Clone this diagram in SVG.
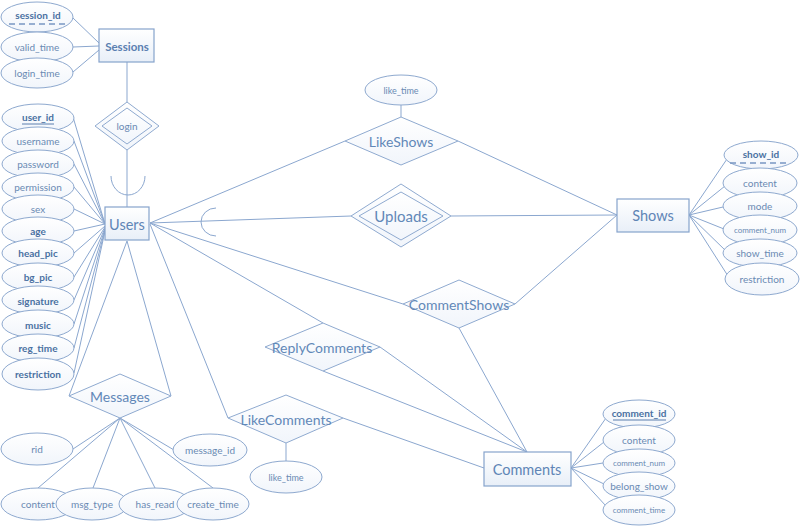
<svg xmlns="http://www.w3.org/2000/svg" width="800" height="527" viewBox="0 0 800 527">
<defs>
<linearGradient id="gEnt" x1="0" y1="0" x2="0" y2="1"><stop offset="0" stop-color="#ffffff"/><stop offset="1" stop-color="#e8eff8"/></linearGradient>
<linearGradient id="gAttr" x1="0" y1="0" x2="0" y2="1"><stop offset="0" stop-color="#ffffff"/><stop offset="1" stop-color="#f1f5fb"/></linearGradient>
<style>
.ln{stroke:#8ba7cf;stroke-width:1;fill:none}
.ent{fill:url(#gEnt);stroke:#86a3cc;stroke-width:1.2}
.rel{fill:url(#gAttr);stroke:#8faad0;stroke-width:1}
.att{fill:url(#gAttr);stroke:#8ea9cf;stroke-width:1}
text{font-family:Lato,"Liberation Sans",sans-serif;text-anchor:middle;dominant-baseline:central}
.et{font-size:14.5px;fill:#5f85b6}
.rt{font-size:14px;fill:#6288b8}
.at{font-size:10px;fill:#6a8ab3}
.ab{font-size:10px;fill:#4a71a2;font-weight:bold}
.sm{font-size:8px;fill:#6a8ab3}
.ul{stroke:#5a7eae;stroke-width:1}
.dl{stroke:#7896c2;stroke-width:1.4;stroke-dasharray:6,4}
</style>
</defs>
<rect width="800" height="527" fill="#ffffff"/>
<g id="connectors">
<line class="ln" x1="73" y1="18" x2="99" y2="43"/>
<line class="ln" x1="73" y1="47" x2="99" y2="46"/>
<line class="ln" x1="73" y1="72" x2="99" y2="50"/>
<line class="ln" x1="127" y1="62" x2="127" y2="102"/>
<line class="ln" x1="127" y1="150" x2="127" y2="207"/>
<path class="ln" d="M111,176 A17,19 0 0 0 145,176"/>
<line class="ln" x1="73" y1="117" x2="105" y2="224"/>
<line class="ln" x1="74" y1="141" x2="105" y2="224"/>
<line class="ln" x1="74" y1="164" x2="105" y2="224"/>
<line class="ln" x1="74" y1="187" x2="105" y2="224"/>
<line class="ln" x1="74" y1="209" x2="105" y2="224"/>
<line class="ln" x1="74" y1="231" x2="105" y2="224"/>
<line class="ln" x1="74" y1="253" x2="105" y2="226"/>
<line class="ln" x1="74" y1="277" x2="105" y2="227"/>
<line class="ln" x1="74" y1="300" x2="105" y2="228"/>
<line class="ln" x1="74" y1="324" x2="105" y2="229"/>
<line class="ln" x1="74" y1="348" x2="105" y2="230"/>
<line class="ln" x1="74" y1="373" x2="105" y2="231"/>
<line class="ln" x1="150" y1="223" x2="345" y2="141"/>
<line class="ln" x1="150" y1="223" x2="351" y2="216"/>
<path class="ln" d="M216,208 A15,14 0 0 0 216,236"/>
<line class="ln" x1="150" y1="223" x2="403" y2="304"/>
<line class="ln" x1="150" y1="223" x2="323" y2="323"/>
<line class="ln" x1="150" y1="224" x2="228" y2="418"/>
<line class="ln" x1="127" y1="241" x2="69" y2="396"/>
<line class="ln" x1="127" y1="241" x2="171" y2="396"/>
<line class="ln" x1="401" y1="105" x2="401" y2="117"/>
<line class="ln" x1="458" y1="141" x2="617" y2="215"/>
<line class="ln" x1="451" y1="216" x2="617" y2="215"/>
<line class="ln" x1="515" y1="304" x2="617" y2="215"/>
<line class="ln" x1="459" y1="328" x2="527" y2="452"/>
<line class="ln" x1="380" y1="347" x2="527" y2="452"/>
<line class="ln" x1="323" y1="371" x2="527" y2="452"/>
<line class="ln" x1="343" y1="418" x2="484" y2="468"/>
<line class="ln" x1="286" y1="443" x2="286" y2="461"/>
<line class="ln" x1="689" y1="215" x2="727" y2="159"/>
<line class="ln" x1="689" y1="215" x2="725" y2="186"/>
<line class="ln" x1="689" y1="215" x2="723" y2="207"/>
<line class="ln" x1="689" y1="215" x2="724" y2="229"/>
<line class="ln" x1="689" y1="215" x2="726" y2="251"/>
<line class="ln" x1="689" y1="215" x2="728" y2="276"/>
<line class="ln" x1="571" y1="468" x2="606" y2="418"/>
<line class="ln" x1="571" y1="468" x2="604" y2="442"/>
<line class="ln" x1="571" y1="468" x2="603" y2="463"/>
<line class="ln" x1="571" y1="468" x2="604" y2="484"/>
<line class="ln" x1="571" y1="468" x2="606" y2="506"/>
<line class="ln" x1="120" y1="418" x2="73" y2="449"/>
<line class="ln" x1="120" y1="418" x2="174" y2="450"/>
<line class="ln" x1="120" y1="418" x2="38" y2="488"/>
<line class="ln" x1="120" y1="418" x2="93" y2="488"/>
<line class="ln" x1="120" y1="418" x2="155" y2="488"/>
<line class="ln" x1="120" y1="418" x2="213" y2="488"/>
</g>
<g id="Sessions"><rect class="ent" x="99" y="29" width="55" height="33"/><text x="127" y="46" style="font-size:11.5px;font-weight:bold;fill:#5a80b1;font-family:Lato,'Liberation Sans',sans-serif">Sessions</text></g>
<g id="attr-session_id"><ellipse class="att" cx="37" cy="17" rx="36" ry="15"/><text class="ab" x="38" y="15">session_id</text><line class="dl" x1="9" y1="24" x2="67" y2="24"/></g>
<g id="attr-valid_time"><ellipse class="att" cx="37" cy="47" rx="36" ry="15"/><text class="at" x="37" y="47">valid_time</text></g>
<g id="attr-login_time"><ellipse class="att" cx="37" cy="73" rx="36" ry="15"/><text class="at" x="37" y="73">login_time</text></g>
<g id="login"><polygon class="rel" points="127,102 159,126 127,150 95,126"/><polygon class="rel" points="127,108 152,126 127,144 102,126"/><text class="at" x="127" y="126">login</text></g>
<g id="Users"><rect class="ent" x="105" y="207" width="44" height="33"/><text class="et" x="127" y="224">Users</text></g>
<g id="attr-user_id"><ellipse class="att" cx="38" cy="118" rx="36" ry="14"/><text class="ab" x="38" y="117">user_id</text><line class="ul" x1="22" y1="124" x2="54" y2="124"/></g>
<g id="attr-username"><ellipse class="att" cx="38" cy="141" rx="36" ry="14"/><text class="at" x="38" y="141">username</text></g>
<g id="attr-password"><ellipse class="att" cx="38" cy="164" rx="36" ry="14"/><text class="at" x="38" y="164">password</text></g>
<g id="attr-permission"><ellipse class="att" cx="38" cy="187" rx="36" ry="14"/><text class="at" x="38" y="187">permission</text></g>
<g id="attr-sex"><ellipse class="att" cx="38" cy="209" rx="36" ry="14"/><text class="at" x="38" y="209">sex</text></g>
<g id="attr-age"><ellipse class="att" cx="38" cy="231" rx="36" ry="14"/><text class="ab" x="38" y="231">age</text></g>
<g id="attr-head_pic"><ellipse class="att" cx="38" cy="253" rx="36" ry="14"/><text class="ab" x="38" y="253">head_pic</text></g>
<g id="attr-bg_pic"><ellipse class="att" cx="38" cy="277" rx="36" ry="14"/><text class="ab" x="38" y="277">bg_pic</text></g>
<g id="attr-signature"><ellipse class="att" cx="38" cy="300" rx="36" ry="14"/><text class="ab" x="38" y="301">signature</text></g>
<g id="attr-music"><ellipse class="att" cx="38" cy="324" rx="36" ry="14"/><text class="ab" x="38" y="325">music</text></g>
<g id="attr-reg_time"><ellipse class="att" cx="38" cy="348" rx="36" ry="14"/><text class="ab" x="38" y="348">reg_time</text></g>
<g id="attr-restriction"><ellipse class="att" cx="38" cy="374" rx="36" ry="16"/><text class="ab" x="38" y="374">restriction</text></g>
<g id="LikeShows"><polygon class="rel" points="401,117 458,141 401,165 345,141"/><text class="rt" x="401" y="141">LikeShows</text></g>
<g id="attr-like_time-shows"><ellipse class="att" cx="401" cy="90" rx="36" ry="15"/><text class="at" x="401" y="90" style="font-size:9px">like_time</text></g>
<g id="Uploads"><polygon class="rel" points="401,184 451,216 401,247 351,216"/><polygon class="rel" points="401,192 443,216 401,240 359,216"/><text class="rt" x="401" y="216" style="font-size:15px">Uploads</text></g>
<g id="CommentShows"><polygon class="rel" points="459,280 515,304 459,328 403,304"/><text class="rt" x="459" y="304">CommentShows</text></g>
<g id="ReplyComments"><polygon class="rel" points="323,323 380,347 323,371 265,347"/><text class="rt" x="322" y="347">ReplyComments</text></g>
<g id="LikeComments"><polygon class="rel" points="286,395 343,418 286,443 228,418"/><text class="rt" x="286" y="419">LikeComments</text></g>
<g id="attr-like_time-comments"><ellipse class="att" cx="286" cy="477" rx="36" ry="16"/><text class="at" x="286" y="477" style="font-size:9px">like_time</text></g>
<g id="Messages"><polygon class="rel" points="120,374 171,396 120,418 69,396"/><text class="rt" x="120" y="396">Messages</text></g>
<g id="attr-rid"><ellipse class="att" cx="37" cy="449" rx="36" ry="16"/><text class="at" x="37" y="449">rid</text></g>
<g id="attr-message_id"><ellipse class="att" cx="210" cy="450" rx="37" ry="16"/><text class="at" x="210" y="450">message_id</text></g>
<g id="attr-msg-content"><ellipse class="att" cx="38" cy="504" rx="37" ry="16"/><text class="at" x="38" y="504">content</text></g>
<g id="attr-msg_type"><ellipse class="att" cx="92" cy="504" rx="36" ry="16"/><text class="at" x="92" y="504">msg_type</text></g>
<g id="attr-has_read"><ellipse class="att" cx="155" cy="504" rx="36" ry="16"/><text class="at" x="155" y="504">has_read</text></g>
<g id="attr-create_time"><ellipse class="att" cx="213" cy="504" rx="36" ry="16"/><text class="at" x="213" y="504">create_time</text></g>
<g id="Shows"><rect class="ent" x="617" y="199" width="72" height="33"/><text class="et" x="653" y="215">Shows</text></g>
<g id="attr-show_id"><ellipse class="att" cx="761" cy="155" rx="37" ry="14"/><text class="ab" x="761" y="154">show_id</text><line class="dl" x1="730" y1="163" x2="789" y2="163"/></g>
<g id="attr-show-content"><ellipse class="att" cx="760" cy="183" rx="37" ry="15"/><text class="at" x="760" y="183">content</text></g>
<g id="attr-mode"><ellipse class="att" cx="760" cy="206" rx="37" ry="14"/><text class="at" x="760" y="206">mode</text></g>
<g id="attr-show-comment_num"><ellipse class="att" cx="760" cy="230" rx="37" ry="15"/><text class="sm" x="760" y="230">comment_num</text></g>
<g id="attr-show_time"><ellipse class="att" cx="760" cy="253" rx="37" ry="14"/><text class="at" x="760" y="253">show_time</text></g>
<g id="attr-show-restriction"><ellipse class="att" cx="762" cy="279" rx="37" ry="16"/><text class="at" x="762" y="279">restriction</text></g>
<g id="Comments"><rect class="ent" x="484" y="452" width="87" height="34"/><text class="et" x="527" y="469">Comments</text></g>
<g id="attr-comment_id"><ellipse class="att" cx="639" cy="414" rx="36" ry="14"/><text class="ab" x="639" y="413">comment_id</text><line class="ul" x1="613" y1="420" x2="666" y2="420"/></g>
<g id="attr-comment-content"><ellipse class="att" cx="639" cy="440" rx="36" ry="15"/><text class="at" x="639" y="440">content</text></g>
<g id="attr-comment_num"><ellipse class="att" cx="639" cy="463" rx="36" ry="14"/><text class="sm" x="639" y="463">comment_num</text></g>
<g id="attr-belong_show"><ellipse class="att" cx="639" cy="486" rx="36" ry="14"/><text class="at" x="639" y="486">belong_show</text></g>
<g id="attr-comment_time"><ellipse class="att" cx="639" cy="510" rx="36" ry="15"/><text class="sm" x="639" y="510">comment_time</text></g>
</svg>
